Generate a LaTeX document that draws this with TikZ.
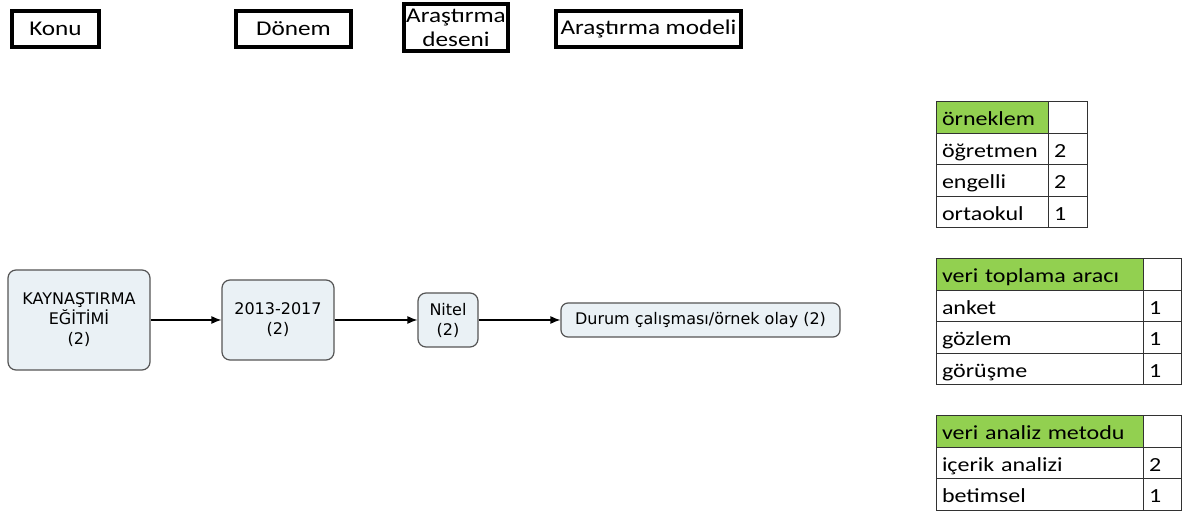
\documentclass[tikz,border=0pt]{standalone}
\usepackage{fontspec}
\setmainfont{Carlito}[FakeStretch=1.2]
\newfontfamily\flowfont{DejaVu Sans}
\usepackage{xcolor}
\usepackage{tikz}
\usetikzlibrary{arrows.meta,positioning}
\definecolor{keedge}{RGB}{85,85,85}
\definecolor{kefill}{RGB}{234,241,245}
\definecolor{kegreen}{RGB}{146,208,80}
\definecolor{kegrid}{RGB}{50,50,50}
\tikzset{
  head/.style={
    draw=black, line width=2pt, align=center, inner sep=0pt,
    font=\fontsize{10.5}{12}\selectfont
  },
  flow/.style={
    draw=keedge, fill=kefill, line width=0.6pt, rounded corners=4pt,
    align=center, inner sep=0pt, font=\flowfont\fontsize{8}{10}\selectfont
  },
  cell/.style={
    draw=kegrid, line width=0.5pt, outer sep=0pt, inner xsep=3pt, inner ysep=0pt,
    minimum height=15.75pt, anchor=north west, align=left,
    text height=9pt, text depth=1pt,
    font=\fontsize{10}{12}\selectfont
  },
  hcell/.style={cell, fill=kegreen},
  arr/.style={-{Latex[length=5pt,width=4pt]}, draw=black, line width=0.6pt}
}
\begin{document}
\begin{tikzpicture}[x=0.5pt,y=-0.5pt]
  \useasboundingbox (0,0) rectangle (1191,512);
  % column headings
  \node[head, minimum width=43.5pt, minimum height=18pt] (konu) at (55.5,29) {Konu};
  \node[head, minimum width=57.5pt, minimum height=18pt] (donem) at (293.5,29) {Dönem};
  \node[head, minimum width=52pt, minimum height=23.5pt] (desen) at (456,27.5) {Araştırma\\deseni};
  \node[head, minimum width=92.5pt, minimum height=18pt] (model) at (648.5,29) {Araştırma modeli};
  % flow
  \node[flow, minimum width=71pt, minimum height=50pt] (kay) at (79,320) {KAYNAŞTIRMA\\EĞİTİMİ\\(2)};
  \node[flow, minimum width=56pt, minimum height=40pt] (yil) at (278,320) {2013-2017\\(2)};
  \node[flow, minimum width=30pt, minimum height=27pt] (nitel) at (448,320) {Nitel\\(2)};
  \node[flow, minimum width=139.5pt, minimum height=17pt, rounded corners=3.5pt] (durum) at (700.5,320) {Durum çalışması/örnek olay (2)};
  \draw[arr] (kay) -- (yil);
  \draw[arr] (yil) -- (nitel);
  \draw[arr] (nitel) -- (durum);
  % örneklem
  \node[hcell, text width=50pt] (orn0) at (936,102) {örneklem};
  \node[cell, text width=13.5pt] (orn0n) at (orn0.north east) {};
  \node[cell, text width=50pt] (orn1) at (orn0.south west) {öğretmen};
  \node[cell, text width=13.5pt] (orn1n) at (orn1.north east) {2};
  \node[cell, text width=50pt] (orn2) at (orn1.south west) {engelli};
  \node[cell, text width=13.5pt] (orn2n) at (orn2.north east) {2};
  \node[cell, text width=50pt] (orn3) at (orn2.south west) {ortaokul};
  \node[cell, text width=13.5pt] (orn3n) at (orn3.north east) {1};
  % veri toplama aracı
  \node[hcell, text width=97.5pt] (vta0) at (936,259) {veri toplama aracı};
  \node[cell, text width=13pt] (vta0n) at (vta0.north east) {};
  \node[cell, text width=97.5pt] (vta1) at (vta0.south west) {anket};
  \node[cell, text width=13pt] (vta1n) at (vta1.north east) {1};
  \node[cell, text width=97.5pt] (vta2) at (vta1.south west) {gözlem};
  \node[cell, text width=13pt] (vta2n) at (vta2.north east) {1};
  \node[cell, text width=97.5pt] (vta3) at (vta2.south west) {görüşme};
  \node[cell, text width=13pt] (vta3n) at (vta3.north east) {1};
  % veri analiz metodu
  \node[hcell, text width=97.5pt] (vam0) at (936,416) {veri analiz metodu};
  \node[cell, text width=13pt] (vam0n) at (vam0.north east) {};
  \node[cell, text width=97.5pt] (vam1) at (vam0.south west) {içerik analizi};
  \node[cell, text width=13pt] (vam1n) at (vam1.north east) {2};
  \node[cell, text width=97.5pt] (vam2) at (vam1.south west) {betimsel};
  \node[cell, text width=13pt] (vam2n) at (vam2.north east) {1};
\end{tikzpicture}
\end{document}
